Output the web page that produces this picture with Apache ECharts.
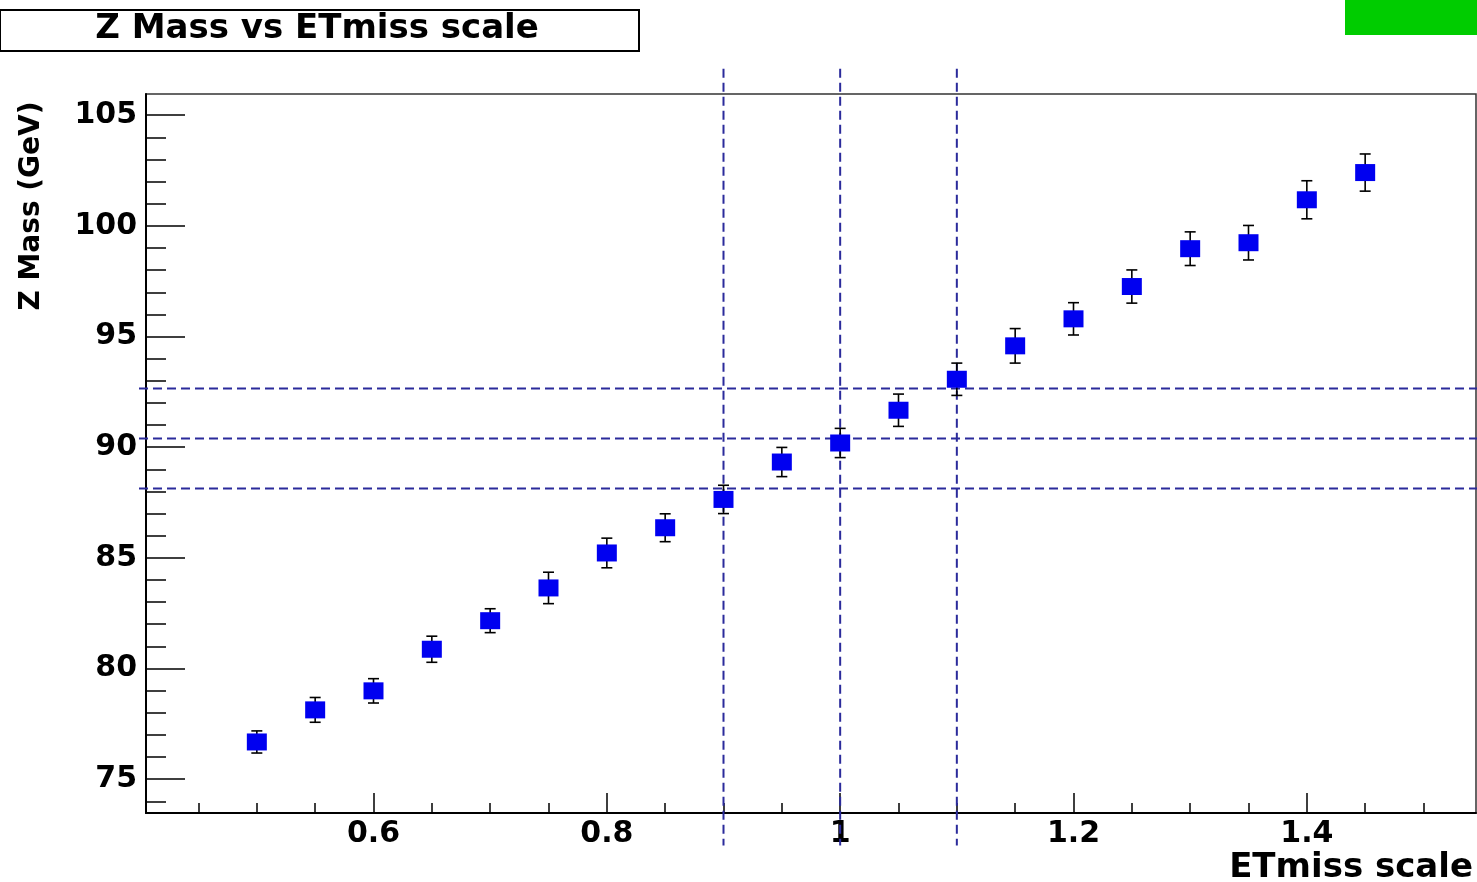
<!DOCTYPE html>
<html>
<head>
<meta charset="utf-8">
<script src="https://cdn.jsdelivr.net/npm/echarts@6/dist/echarts.min.js"></script>
<style>
  html, body { margin: 0; padding: 0; background: #fff; }
  #chart { width: 1477px; height: 882px; }
</style>
</head>
<body>
<div id="chart"></div>
<script>
// ---- data ----
const etmissScale = [0.50, 0.55, 0.60, 0.65, 0.70, 0.75, 0.80, 0.85, 0.90, 0.95,
                     1.00, 1.05, 1.10, 1.15, 1.20, 1.25, 1.30, 1.35, 1.40, 1.45];
const zMass = [76.68, 78.13, 78.99, 80.87, 82.16, 83.64, 85.22, 86.36, 87.64, 89.33,
               90.19, 91.67, 93.07, 94.58, 95.80, 97.26, 98.97, 99.24, 101.18, 102.41];
const zMassErr = [0.50, 0.56, 0.55, 0.59, 0.54, 0.71, 0.67, 0.63, 0.64, 0.66,
                  0.66, 0.73, 0.73, 0.78, 0.73, 0.75, 0.76, 0.78, 0.86, 0.84];
const refScaleLines = [0.9, 1.0, 1.1];
const refMassLines = [88.13, 90.39, 92.65];

const xTickLabels = [0.6, 0.8, 1.0, 1.2, 1.4];
const xMinorTicks = [0.45, 0.5, 0.55, 0.6, 0.65, 0.7, 0.75, 0.8, 0.85, 0.9, 0.95, 1.0,
                     1.05, 1.1, 1.15, 1.2, 1.25, 1.3, 1.35, 1.4, 1.45, 1.5];
const yTickLabels = [75, 80, 85, 90, 95, 100, 105];
const yMinorTicks = [74, 75, 76, 77, 78, 79, 80, 81, 82, 83, 84, 85, 86, 87, 88, 89, 90,
                     91, 92, 93, 94, 95, 96, 97, 98, 99, 100, 101, 102, 103, 104, 105];

const titleText = 'Z Mass vs ETmiss scale';
const xTitle = 'ETmiss scale';
const yTitle = 'Z Mass (GeV)';

// ---- ranges ----
const X_MIN = 0.405, X_MAX = 1.545;
const Y_MIN = 73.47, Y_MAX = 105.96;

const FONT = 'DejaVu Sans';
const chart = echarts.init(document.getElementById('chart'), null, { renderer: 'canvas' });

const points = etmissScale.map((x, i) => [x, zMass[i], zMassErr[i]]);

const dashStyle = { stroke: '#2b2b9b', lineWidth: 2, lineDash: [9, 5] };

const option = {
  animation: false,
  backgroundColor: '#fff',
  grid: {
    left: 146, top: 94, right: 1, bottom: 69,
    show: true, borderColor: '#333', borderWidth: 1.5, backgroundColor: 'transparent'
  },
  xAxis: [
    {
      type: 'value', min: X_MIN, max: X_MAX, position: 'bottom',
      axisLine: { show: true, lineStyle: { color: '#000', width: 2 } },
      axisTick: { show: true, inside: true, length: 20, customValues: xTickLabels,
                  lineStyle: { color: '#000', width: 1.5 } },
      axisLabel: { show: true, customValues: xTickLabels, margin: 6,
                   fontFamily: FONT, fontWeight: 'bold', fontSize: 30, color: '#000',
                   formatter: v => String(Number(v.toFixed(2))) },
      splitLine: { show: false }
    },
    {
      type: 'value', min: X_MIN, max: X_MAX, position: 'bottom',
      axisLine: { show: false },
      axisTick: { show: true, inside: true, length: 10, customValues: xMinorTicks,
                  lineStyle: { color: '#000', width: 1.5 } },
      axisLabel: { show: false },
      splitLine: { show: false }
    }
  ],
  yAxis: [
    {
      type: 'value', min: Y_MIN, max: Y_MAX, position: 'left',
      axisLine: { show: true, lineStyle: { color: '#000', width: 2 } },
      axisTick: { show: true, inside: true, length: 39, customValues: yTickLabels,
                  lineStyle: { color: '#000', width: 1.5 } },
      axisLabel: { show: true, customValues: yTickLabels, margin: 9,
                   fontFamily: FONT, fontWeight: 'bold', fontSize: 30, color: '#000' },
      splitLine: { show: false }
    },
    {
      type: 'value', min: Y_MIN, max: Y_MAX, position: 'left',
      axisLine: { show: false },
      axisTick: { show: true, inside: true, length: 20, customValues: yMinorTicks,
                  lineStyle: { color: '#000', width: 1.5 } },
      axisLabel: { show: false },
      splitLine: { show: false }
    }
  ],
  series: [
    {
      type: 'custom', name: 'scale lines', clip: false, z: 1,
      xAxisIndex: 0, yAxisIndex: 0,
      data: refScaleLines.map(v => [v]),
      renderItem: (params, api) => {
        const x = api.value(0);
        const a = api.coord([x, 107.1]);
        const b = api.coord([x, 72.0]);
        return { type: 'line', shape: { x1: a[0], y1: a[1], x2: b[0], y2: b[1] }, style: dashStyle };
      }
    },
    {
      type: 'custom', name: 'mass lines', clip: false, z: 1,
      xAxisIndex: 0, yAxisIndex: 0,
      data: refMassLines.map(v => [v]),
      renderItem: (params, api) => {
        const y = api.value(0);
        const a = api.coord([0.399, y]);
        const b = api.coord([1.56, y]);
        return { type: 'line', shape: { x1: a[0], y1: a[1], x2: b[0], y2: b[1] }, style: dashStyle };
      }
    },
    {
      type: 'custom', name: 'Z mass', clip: false, z: 3,
      xAxisIndex: 0, yAxisIndex: 0,
      data: points,
      renderItem: (params, api) => {
        const x = api.value(0), y = api.value(1), e = api.value(2);
        const c = api.coord([x, y]);
        const t = api.coord([x, y + e]);
        const b = api.coord([x, y - e]);
        const ls = { stroke: '#000', lineWidth: 1.6 };
        return {
          type: 'group',
          children: [
            { type: 'line', shape: { x1: c[0], y1: t[1], x2: c[0], y2: b[1] }, style: ls },
            { type: 'line', shape: { x1: c[0] - 5.5, y1: t[1], x2: c[0] + 5.5, y2: t[1] }, style: ls },
            { type: 'line', shape: { x1: c[0] - 5.5, y1: b[1], x2: c[0] + 5.5, y2: b[1] }, style: ls },
            { type: 'rect', shape: { x: c[0] - 10, y: c[1] - 8.5, width: 20, height: 17 },
              style: { fill: '#0000f0' } }
          ]
        };
      }
    }
  ],
  graphic: [
    { type: 'rect', left: -1, top: 9, shape: { width: 639, height: 41 },
      style: { fill: '#fff', stroke: '#000', lineWidth: 2 }, z: 10 },
    { type: 'text', x: 317, y: 29, z: 11,
      style: { text: titleText, fontFamily: FONT, fontWeight: 'bold', fontSize: 34,
               fill: '#000', align: 'center', verticalAlign: 'middle' } },
    { type: 'rect', left: 1345, top: 0, shape: { width: 132, height: 35 },
      style: { fill: '#00cc00' }, z: 10 },
    { type: 'text', x: 32, y: 206, rotation: Math.PI / 2, z: 11,
      style: { text: yTitle, fontFamily: FONT, fontWeight: 'bold', fontSize: 28,
               fill: '#000', align: 'center', verticalAlign: 'middle' } },
    { type: 'text', x: 1473, y: 868, z: 11,
      style: { text: xTitle, fontFamily: FONT, fontWeight: 'bold', fontSize: 34,
               fill: '#000', align: 'right', verticalAlign: 'middle' } }
  ]
};

chart.setOption(option);
</script>
</body>
</html>
